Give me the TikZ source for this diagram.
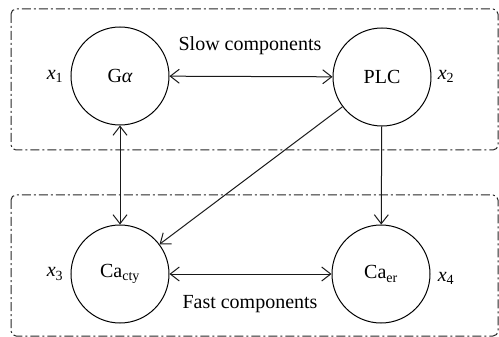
\documentclass[tikz,border=0pt]{standalone}
\usepackage{fontspec}
\setmainfont{Liberation Serif}
\usetikzlibrary{arrows.meta}
\begin{document}
\begin{tikzpicture}[x=1pt,y=-1pt,
  state/.style={circle,draw,line width=1pt,minimum size=98pt,inner sep=0pt,font=\fontsize{20}{24}\selectfont},
  lbl/.style={font=\fontsize{20}{24}\selectfont,inner sep=0pt},
  grp/.style={draw=black!85,line width=1pt,rounded corners=5pt,dash pattern=on 9pt off 3pt on 2pt off 3pt},
  conn/.style={line width=1pt,draw=black!90,{Straight Barb[length=9pt,width=14pt]}-{Straight Barb[length=9pt,width=14pt]}},
  conn1/.style={line width=1pt,draw=black!90,-{Straight Barb[length=9pt,width=14pt]}}]
\useasboundingbox (0,0) rectangle (499,337);
\draw[grp] (11,9) rectangle (498,150);
\draw[grp] (11,195) rectangle (498,336);
\node[state] (G) at (120,76) {G{\itshape α}};
\node[state] (P) at (382,77) {PLC};
\node[state] (C) at (120,274) {Ca\textsubscript{cty}};
\node[state] (E) at (381,274) {Ca\textsubscript{er}};
\node[lbl] (x1) at (55,76) {\textit{x}\textsubscript{1}};
\node[lbl] (x2) at (446,76) {\textit{x}\textsubscript{2}};
\node[lbl] (x3) at (55,274) {\textit{x}\textsubscript{3}};
\node[lbl] (x4) at (446,278) {\textit{x}\textsubscript{4}};
\node[lbl] (slow) at (250,46) {Slow components};
\node[lbl] (fast) at (250,304) {Fast components};
\draw[conn] (G) -- (P);
\draw[conn] (G) -- (C);
\draw[conn1] (P) -- (C);
\draw[conn1] (P) -- (E);
\draw[conn] (C) -- (E);
\end{tikzpicture}
\end{document}
